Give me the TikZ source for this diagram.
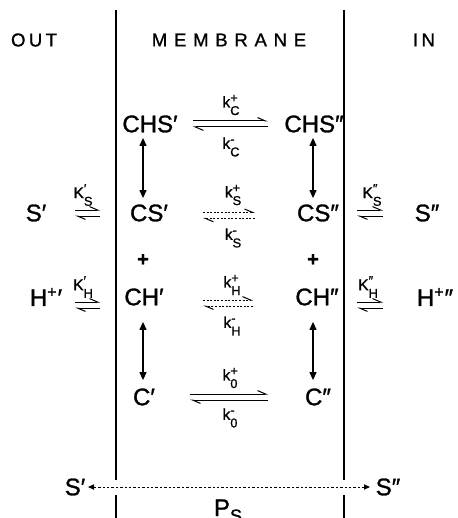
\documentclass[tikz,border=0pt]{standalone}
\usepackage{fontspec}
\newfontfamily\chemfont{Liberation Sans}[FakeBold=1.2]
\newfontfamily\titlefont{Liberation Sans}[FakeBold=1]
\usetikzlibrary{arrows.meta}
% rate constant: symbol, subscript, superscript
\newcommand\rc[3]{#1\rlap{\raisebox{2.6pt}{\fontsize{6.4}{6}\selectfont#3}}\raisebox{-3.8pt}{\fontsize{6.4}{6}\selectfont#2}}

\begin{document}
\begin{tikzpicture}[x=0.5pt, y=-0.5pt,
  chem/.style={inner sep=0pt, font=\chemfont\fontsize{12}{14}\selectfont},
  rate/.style={inner sep=0pt, font=\chemfont\fontsize{7.8}{9}\selectfont},
  head/.style={inner sep=0pt, font=\titlefont\fontsize{9.3}{11}\selectfont\addfontfeature{LetterSpace=#1}},
  head/.default=18,
  plus/.style={inner sep=0pt, font=\chemfont\bfseries\fontsize{10}{12}\selectfont},
  eq/.style={-{Straight Barb[left, length=4pt, width=3.4pt]}, line width=0.5pt},
  eqd/.style={eq, dash pattern=on 1pt off 0.8pt},
  link/.style={{Triangle[length=4pt, width=3.5pt]}-{Triangle[length=4pt, width=3.5pt]}, line width=0.6pt},
  perm/.style={{Triangle[length=3pt, width=2.6pt]}-{Triangle[length=3pt, width=2.6pt]}, line width=0.5pt, dash pattern=on 1.2pt off 1pt},
  membrane/.style={line width=1pt}]
\useasboundingbox (0,0) rectangle (457,518);
% headings
\node[head] (out) at (34,40) {OUT};
\node[head=36] (mem) at (229,40) {MEMBRANE};
\node[head] (in) at (424,40) {IN};
% membrane walls
\draw[membrane] (116,10) -- (116,480) (116,495) -- (116,520);
\draw[membrane] (344,10) -- (344,480) (344,495) -- (344,520);
% species
\node[chem] (chs1) at (150,124) {CHS′};
\node[chem] (chs2) at (314,124) {CHS″};
\node[chem] (cs1) at (149,213) {CS′};
\node[chem] (cs2) at (318,213) {CS″};
\node[plus] (plus1) at (143,260) {+};
\node[plus] (plus2) at (313,260) {+};
\node[chem] (ch1) at (144,297) {CH′};
\node[chem] (ch2) at (317,297) {CH″};
\node[chem] (c1) at (144,397) {C′};
\node[chem] (c2) at (318,397) {C″};
\node[chem] (so) at (36,213) {S′};
\node[chem] (si) at (427,213) {S″};
\node[chem] (ho) at (46,297) {H\textsuperscript{+}′};
\node[chem] (hi) at (435,297) {H\textsuperscript{+}″};
\node[chem] (sfree1) at (75,487) {S′};
\node[chem] (sfree2) at (388,487) {S″};
\node[chem, anchor=base] (ps) at (228,516) {P\raisebox{-3pt}{\fontsize{9}{9}\selectfont S}};
% rate constants
\node[rate] (kcf) at (231,105) {\rc{k}{C}{+}};
\node[rate] (kcb) at (231,147) {\rc{k}{C}{-}};
\node[rate] (ksf) at (233,195) {\rc{k}{S}{+}};
\node[rate] (ksb) at (233,238) {\rc{k}{S}{-}};
\node[rate] (khf) at (232,285) {\rc{k}{H}{+}};
\node[rate] (khb) at (232,326) {\rc{k}{H}{-}};
\node[rate] (k0f) at (230,378) {\rc{k}{0}{+}};
\node[rate] (k0b) at (230,418) {\rc{k}{0}{-}};
\node[rate] (kso) at (83,195) {\rc{K}{S}{′}};
\node[rate] (ksi) at (372,195) {\rc{K}{S}{″}};
\node[rate] (kho) at (83,287) {\rc{K}{H}{′}};
\node[rate] (khi) at (368,287) {\rc{K}{H}{″}};
% carrier transitions
\draw[eq, shorten <=21.5pt, shorten >=23pt] ([yshift=1.5pt]chs1.center) -- ([yshift=1.5pt]chs2.center);
\draw[eq, shorten <=23pt, shorten >=21.5pt] ([yshift=-1.5pt]chs2.center) -- ([yshift=-1.5pt]chs1.center);
\draw[eqd, shorten <=27pt, shorten >=31.5pt] ([yshift=0.3pt]cs1.center) -- ([yshift=0.3pt]cs2.center);
\draw[eqd, shorten <=31.5pt, shorten >=27pt] ([yshift=-2.7pt]cs2.center) -- ([yshift=-2.7pt]cs1.center);
\draw[eqd, shorten <=29.5pt, shorten >=32pt] ([yshift=-1.5pt]ch1.center) -- ([yshift=-1.5pt]ch2.center);
\draw[eqd, shorten <=32pt, shorten >=29.5pt] ([yshift=-4.5pt]ch2.center) -- ([yshift=-4.5pt]ch1.center);
\draw[eq, shorten <=23pt, shorten >=25pt] ([yshift=1.5pt]c1.center) -- ([yshift=1.5pt]c2.center);
\draw[eq, shorten <=25pt, shorten >=23pt] ([yshift=-1.5pt]c2.center) -- ([yshift=-1.5pt]c1.center);
% binding equilibria
\draw[eq, shorten <=19.5pt, shorten >=24.5pt] ([yshift=1.5pt]so.center) -- ([yshift=1.5pt]cs1.center);
\draw[eq, shorten <=24.5pt, shorten >=19.5pt] ([yshift=-1.5pt]cs1.center) -- ([yshift=-1.5pt]so.center);
\draw[eq, shorten <=19.5pt, shorten >=22pt] ([yshift=1.5pt]cs2.center) -- ([yshift=1.5pt]si.center);
\draw[eq, shorten <=22pt, shorten >=19.5pt] ([yshift=-1.5pt]si.center) -- ([yshift=-1.5pt]cs2.center);
\draw[eq, shorten <=14.5pt, shorten >=22pt] ([yshift=-2.5pt]ho.center) -- ([yshift=-2.5pt]ch1.center);
\draw[eq, shorten <=22pt, shorten >=14.5pt] ([yshift=-5.5pt]ch1.center) -- ([yshift=-5.5pt]ho.center);
\draw[eq, shorten <=20pt, shorten >=26pt] ([yshift=-2.5pt]ch2.center) -- ([yshift=-2.5pt]hi.center);
\draw[eq, shorten <=26pt, shorten >=20pt] ([yshift=-5.5pt]hi.center) -- ([yshift=-5.5pt]ch2.center);
% S and H binding on the carrier
\draw[link, shorten <=2.5pt, shorten >=3pt] (chs1.south -| plus1) -- (cs1.north -| plus1);
\draw[link, shorten <=2.5pt, shorten >=3pt] (chs2.south -| plus2) -- (cs2.north -| plus2);
\draw[link, shorten <=8pt, shorten >=4pt] (ch1.south -| plus1) -- (c1.north -| plus1);
\draw[link, shorten <=8pt, shorten >=4pt] (ch2.south -| plus2) -- (c2.north -| plus2);
% free diffusion
\draw[perm, shorten <=6.5pt, shorten >=9pt] (sfree1.center) -- (sfree2.center);
\end{tikzpicture}
\end{document}
